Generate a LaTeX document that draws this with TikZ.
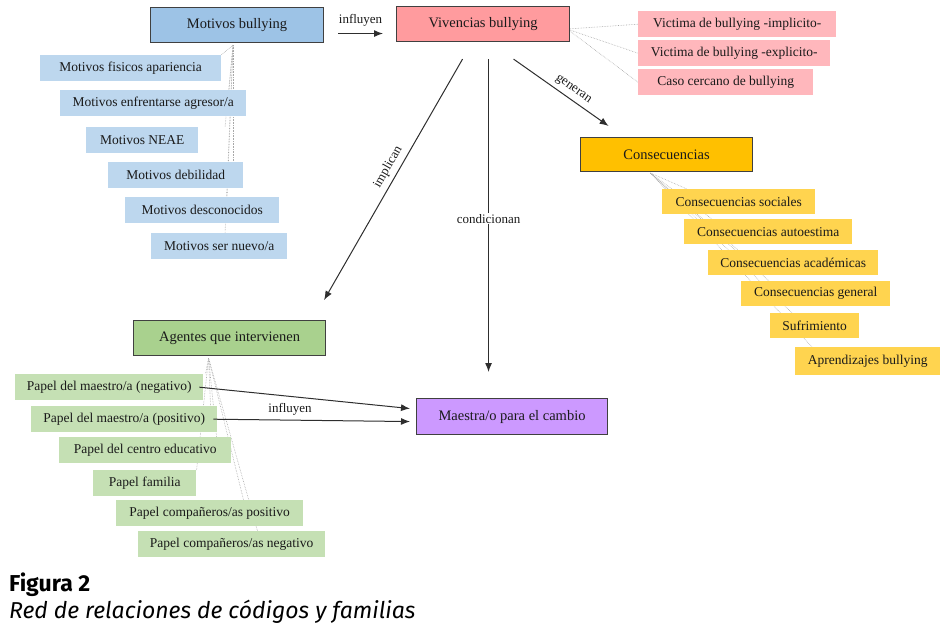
\documentclass[tikz,border=0pt]{standalone}
\usepackage{fontspec}
\setmainfont{Liberation Serif}
\newfontfamily\capfont{Fira Sans}
\usetikzlibrary{arrows.meta,positioning,calc,backgrounds}
\definecolor{ink}{HTML}{1A1A1A}
\definecolor{edge}{HTML}{404040}
\definecolor{arrowgray}{HTML}{2E2E2E}
\definecolor{linkgray}{HTML}{A8A8A8}
\definecolor{blueP}{HTML}{9DC3E6}
\definecolor{blueC}{HTML}{BDD7EE}
\definecolor{pinkP}{HTML}{FF9B9E}
\definecolor{pinkC}{HTML}{FFB7BC}
\definecolor{goldP}{HTML}{FFC000}
\definecolor{goldC}{HTML}{FFD44F}
\definecolor{greenP}{HTML}{A9D18E}
\definecolor{greenC}{HTML}{C5E0B4}
\definecolor{violet}{HTML}{CC99FF}
\tikzset{
  >={Latex[length=9pt,width=7pt]},
  flow/.style={->, draw=arrowgray, line width=1pt},
  link/.style={draw=linkgray, densely dotted, line width=0.6pt},
  family/.style={draw=edge, line width=1.1pt, minimum height=35pt, anchor=north west,
    font=\fontsize{14.5}{16}\selectfont, text=ink},
  code/.style={minimum height=26pt, anchor=north west, font=\fontsize{13.5}{15}\selectfont, text=ink},
  verb/.style={font=\fontsize{13}{14}\selectfont, text=ink},
}

\begin{document}
\begin{tikzpicture}[x=1pt,y=-1pt]
\useasboundingbox (0,0) rectangle (949,636);

% -----------------------------------------------------------------------------
% Motivos
% -----------------------------------------------------------------------------
\node[family, fill=blueP, minimum width=173pt] (mb) at (150,7) {Motivos bullying};
\node[code, fill=blueC, minimum width=181pt] (mb1) at (40,55) {Motivos fisicos apariencia};
\node[code, fill=blueC, minimum width=186pt] (mb2) at (60,90) {Motivos enfrentarse agresor/a};
\node[code, fill=blueC, minimum width=112pt] (mb3) at (86,127) {Motivos NEAE};
\node[code, fill=blueC, minimum width=135pt] (mb4) at (108,162) {Motivos debilidad};
\node[code, fill=blueC, minimum width=154pt] (mb5) at (125,197) {Motivos desconocidos};
\node[code, fill=blueC, minimum width=136pt] (mb6) at (151,233) {Motivos ser nuevo/a};

% -----------------------------------------------------------------------------
% Vivencias
% -----------------------------------------------------------------------------
\node[family, fill=pinkP, minimum width=173pt] (vb) at (396,6) {Vivencias bullying};
\node[code, fill=pinkC, minimum width=198pt] (vb1) at (638,11) {Victima de bullying -implicito-};
\node[code, fill=pinkC, minimum width=192pt] (vb2) at (638,40) {Victima de bullying -explicito-};
\node[code, fill=pinkC, minimum width=175pt] (vb3) at (638,69) {Caso cercano de bullying};

% -----------------------------------------------------------------------------
% Consecuencias
% -----------------------------------------------------------------------------
\node[family, fill=goldP, minimum width=172pt, minimum height=34pt] (cs) at (580,137) {Consecuencias};
\node[code, fill=goldC, minimum width=153pt, minimum height=25pt] (cs1) at (662,189) {Consecuencias sociales};
\node[code, fill=goldC, minimum width=168pt, minimum height=25pt] (cs2) at (684,219) {Consecuencias autoestima};
\node[code, fill=goldC, minimum width=170pt, minimum height=25pt] (cs3) at (708,250) {Consecuencias académicas};
\node[code, fill=goldC, minimum width=149pt, minimum height=25pt] (cs4) at (741,281) {Consecuencias general};
\node[code, fill=goldC, minimum width=89pt, minimum height=25pt] (cs5) at (770,313) {Sufrimiento};
\node[code, fill=goldC, minimum width=145pt, minimum height=28pt] (cs6) at (795,347) {Aprendizajes bullying};

% -----------------------------------------------------------------------------
% Agentes
% -----------------------------------------------------------------------------
\node[family, fill=greenP, minimum width=192pt] (ag) at (133,320) {Agentes que intervienen};
\node[code, fill=greenC, minimum width=188pt] (ag1) at (15,374) {Papel del maestro/a (negativo)};
\node[code, fill=greenC, minimum width=186pt] (ag2) at (31,406) {Papel del maestro/a (positivo)};
\node[code, fill=greenC, minimum width=172pt] (ag3) at (59,437) {Papel del centro educativo};
\node[code, fill=greenC, minimum width=103pt] (ag4) at (93,470) {Papel familia};
\node[code, fill=greenC, minimum width=187pt] (ag5) at (116,500) {Papel compañeros/as positivo};
\node[code, fill=greenC, minimum width=187pt] (ag6) at (138,531) {Papel compañeros/as negativo};

\node[family, fill=violet, minimum width=191pt, minimum height=36pt] (mc) at (416,398) {Maestra/o para el cambio};

% code links behind the boxes
\begin{scope}[on background layer]
  \coordinate (mbhub) at ([xshift=-4pt,yshift=-2pt]mb.south);
  \foreach \c/\dx in {mb1/-12,mb2/-4,mb3/-8,mb4/0,mb5/-6,mb6/-8}{
    \draw[link] (mbhub) -- ([xshift=\dx pt]mbhub |- \c.north);
  }
  \coordinate (vbhub) at ([xshift=-3pt,yshift=-5pt]vb.east);
  \foreach \c in {vb1,vb2,vb3}{\draw[link] (vbhub) -- (\c.west);}
  \coordinate (cshub) at ([xshift=-16pt,yshift=-1pt]cs.south);
  \foreach \c/\dx in {cs1/25,cs2/28,cs3/30,cs4/28,cs5/22,cs6/17}{
    \draw[link] (cshub) -- ([xshift=\dx pt]\c.north west);
  }
  \coordinate (aghub) at ([xshift=-21pt,yshift=-2pt]ag.south);
  \foreach \c/\dx in {ag1/-3,ag2/2,ag3/8,ag4/-12,ag5/35,ag6/49}{
    \draw[link] (aghub) -- ([xshift=\dx pt]aghub |- \c.north);
  }
\end{scope}

% relations
\draw[flow] ([xshift=14pt,yshift=-8.5pt]mb.east) -- node[verb, above=3pt] {influyen} ([xshift=-13pt,yshift=-9.5pt]vb.west);
\draw[flow] ([xshift=-20.5pt,yshift=-17pt]vb.south) -- node[verb, pos=0.47, above=1pt, sloped] {implican} ([xshift=-2pt,yshift=20pt]ag.north east);
\draw[flow] ([xshift=5.5pt,yshift=-17pt]vb.south) -- node[verb, pos=0.51, fill=white, inner sep=1pt] {condicionan} ([xshift=-23.5pt,yshift=26pt]mc.north);
\draw[flow] ([xshift=30.5pt,yshift=-17pt]vb.south) -- node[verb, pos=0.57, above=1pt, sloped] {generan} ([xshift=-58pt,yshift=11pt]cs.north);
\draw[flow] ([xshift=-4pt]ag1.east) -- ([xshift=-6pt,yshift=8pt]mc.west);
\draw[flow] ([xshift=-4pt]ag2.east) -- node[verb, pos=0.39, above=1pt] {influyen} ([xshift=-6pt,yshift=-5pt]mc.west);

% caption
\node[anchor=north west, inner sep=0pt, font=\capfont\bfseries\fontsize{23}{26}\selectfont] (figlabel) at (9,573) {Figura 2};
\node[anchor=north west, inner sep=0pt, font=\capfont\itshape\fontsize{23}{26}\selectfont] (figtitle) at (9,600) {Red de relaciones de códigos y familias};

\end{tikzpicture}
\end{document}
